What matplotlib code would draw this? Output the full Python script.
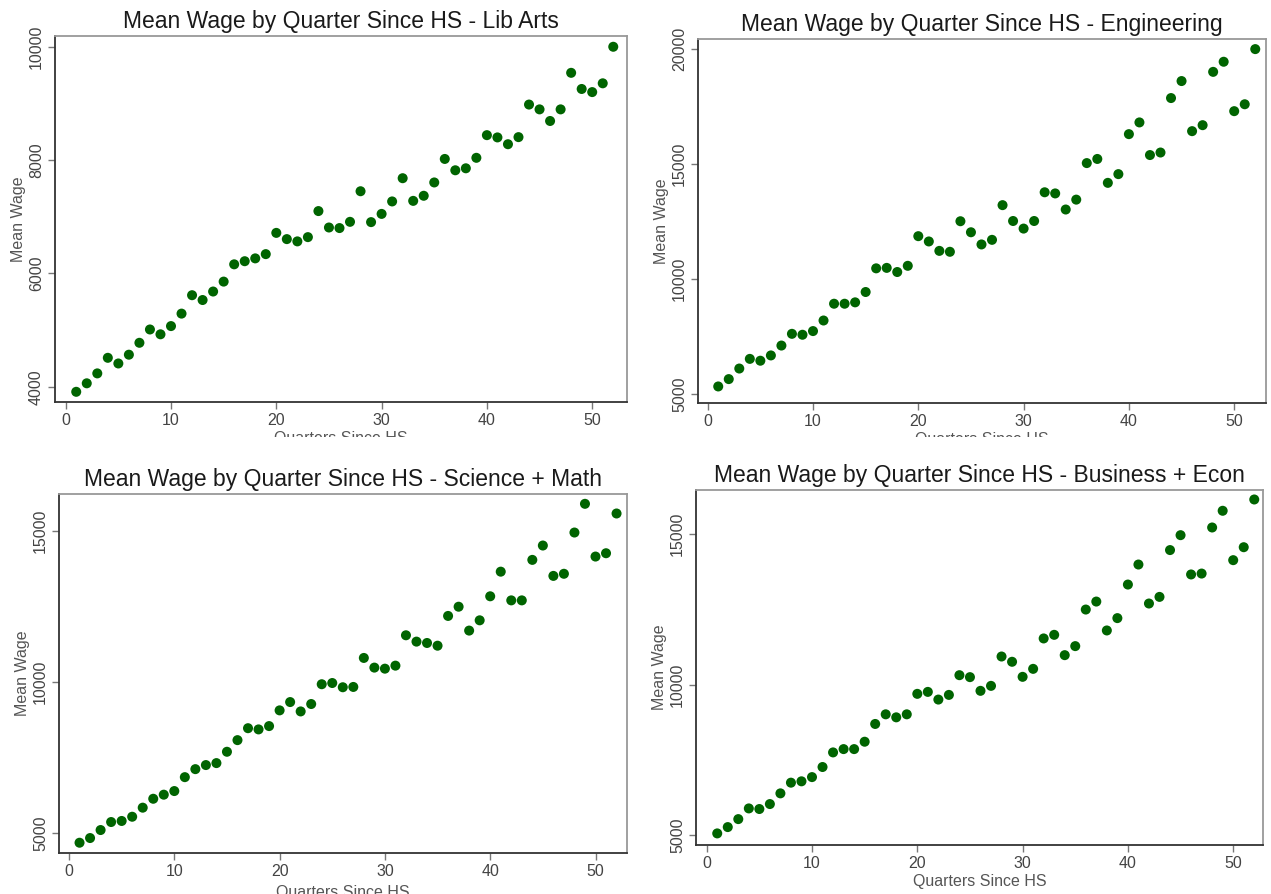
import matplotlib
matplotlib.use("Agg")
import matplotlib.pyplot as plt
from matplotlib.transforms import Bbox, TransformedBbox

plt.rcParams['font.family'] = ['Liberation Sans', 'DejaVu Sans']

# quarters since high school, 1..52
quarters = list(range(1, 53))

lib_arts = [3910, 4060, 4235, 4510, 4410, 4565, 4775, 5010, 4925, 5070,
            5290, 5615, 5530, 5680, 5855, 6160, 6215, 6265, 6340, 6715,
            6605, 6565, 6640, 7100, 6810, 6800, 6910, 7450, 6905, 7050,
            7270, 7680, 7280, 7370, 7605, 8020, 7820, 7855, 8040, 8440,
            8400, 8280, 8405, 8980, 8895, 8690, 8895, 9540, 9255, 9200,
            9355, 10000]

engineering = [5320, 5640, 6100, 6520, 6440, 6670, 7100, 7610, 7570, 7730,
               8190, 8920, 8920, 8980, 9430, 10460, 10480, 10300, 10570, 11860,
               11630, 11220, 11180, 12510, 12030, 11500, 11700, 13210, 12520, 12190,
               12520, 13770, 13720, 13020, 13450, 15040, 15220, 14180, 14560, 16300,
               16810, 15390, 15500, 17870, 18610, 16430, 16690, 19010, 19450, 17300,
               17600, 20000]

science_math = [4680, 4835, 5100, 5365, 5400, 5540, 5840, 6135, 6270, 6390,
                6850, 7115, 7250, 7315, 7690, 8075, 8470, 8430, 8540, 9060,
                9335, 9025, 9270, 9925, 9965, 9825, 9835, 10795, 10475, 10440,
                10540, 11545, 11335, 11290, 11200, 12185, 12490, 11700, 12040, 12835,
                13650, 12700, 12700, 14040, 14515, 13510, 13580, 14945, 15895, 14150,
                14260, 15575]

business_econ = [5055, 5265, 5530, 5885, 5865, 6030, 6385, 6740, 6785, 6925,
                 7260, 7745, 7855, 7855, 8100, 8690, 9010, 8910, 9010, 9690,
                 9755, 9500, 9655, 10310, 10245, 9790, 9955, 10930, 10755, 10255,
                 10520, 11530, 11650, 10975, 11275, 12490, 12755, 11795, 12205, 13320,
                 13985, 12690, 12910, 14465, 14960, 13655, 13685, 15215, 15770, 14130,
                 14560, 16145]

titles = ["Mean Wage by Quarter Since HS - Lib Arts",
          "Mean Wage by Quarter Since HS - Engineering",
          "Mean Wage by Quarter Since HS - Science + Math",
          "Mean Wage by Quarter Since HS - Business + Econ"]
series = [lib_arts, engineering, science_math, business_econ]
yticks = [[4000, 6000, 8000, 10000],
          [5000, 10000, 15000, 20000],
          [5000, 10000, 15000],
          [5000, 10000, 15000]]
ylims = [(3730, 10190), (4600, 20440), (4340, 16220), (4670, 16460)]

W, H = 1271, 894
# panel boxes in pixels: left, top, right, bottom
boxes = [(55, 36, 627, 402),
         (698, 39, 1266, 403),
         (59, 494, 627, 853),
         (696, 490, 1263, 845)]
# x pixel of the 0 tick for each panel
x0 = [65.7, 707.7, 69.0, 706.7]
# lowest visible pixel row for each x label (the top row is cut by the panels below)
label_cut = [437, 437, 894, 894]
# extra drop of the x label, bottom-left one runs off the page
label_pad = [2, 2, 4, 2]

fig = plt.figure(figsize=(W / 100, H / 100), dpi=100)
green = '#006400'

for i in range(4):
    l, t, r, b = boxes[i]
    ax = fig.add_axes([l / W, 1 - b / H, (r - l) / W, (b - t) / H])
    ax.scatter(quarters, series[i], s=52, color=green, edgecolors='none', zorder=3)

    ppu = 10.53
    ax.set_xlim((l - x0[i]) / ppu, (r - x0[i]) / ppu)
    ax.set_ylim(*ylims[i])
    ax.set_xticks([0, 10, 20, 30, 40, 50])
    ax.set_yticks(yticks[i])
    ax.set_yticklabels([str(v) for v in yticks[i]], rotation=90, va='center')

    ax.tick_params(axis='both', direction='out', length=5, width=1,
                   color='#777777', labelcolor='#444444', labelsize=11.5, pad=3)
    for side in ['left', 'bottom']:
        ax.spines[side].set_color('#333333')
        ax.spines[side].set_linewidth(1.3)
    for side in ['top', 'right']:
        ax.spines[side].set_color('#999999')
        ax.spines[side].set_linewidth(1.3)

    ax.set_title(titles[i], fontsize=16.5, color='#1a1a1a', pad=6)
    ax.set_ylabel('Mean Wage', fontsize=11.5, color='#555555', labelpad=2)
    lab = ax.set_xlabel('Quarters Since HS', fontsize=11.5, color='#555555',
                        labelpad=label_pad[i])
    clip = TransformedBbox(Bbox([[0, 1 - label_cut[i] / H], [1, 1]]), fig.transFigure)
    lab.set_clip_box(clip)
    lab.set_clip_on(True)

fig.savefig('out.png', dpi=100, facecolor='white')
